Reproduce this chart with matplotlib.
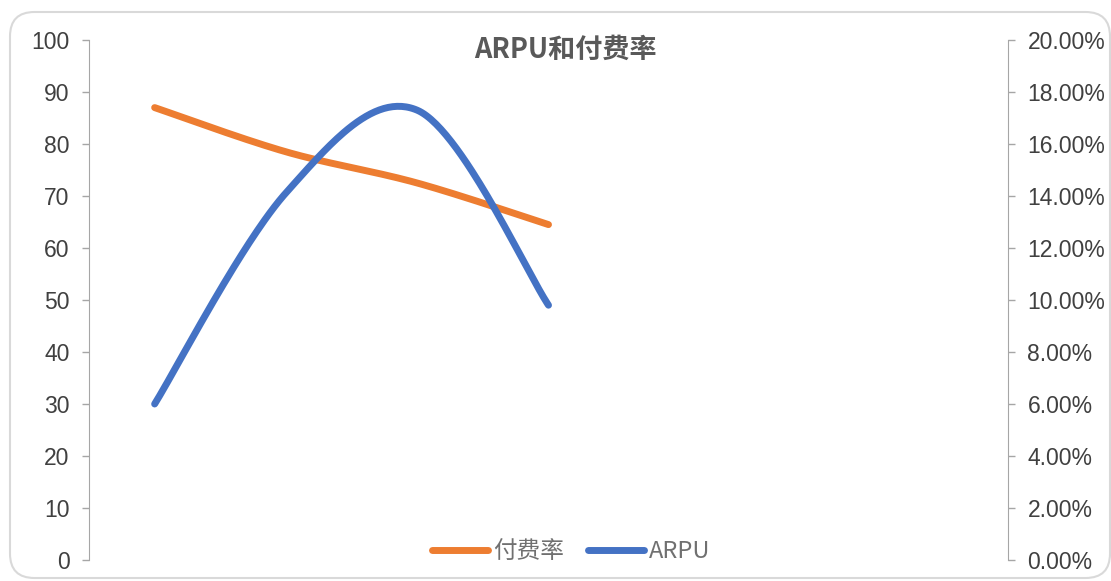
import numpy as np
import matplotlib
matplotlib.use("Agg")
import matplotlib.pyplot as plt
from matplotlib.patches import FancyBboxPatch
from matplotlib.ticker import FuncFormatter, MultipleLocator

plt.rcParams['font.family'] = ['Liberation Sans', 'Noto Sans CJK SC', 'DejaVu Sans']

# data
periods = [0, 1, 2, 3]          # 4 filled slots out of 7 category positions
n_slots = 7
arpu = [30, 70.6, 86.5, 49]
pay_rate = [0.174, 0.157, 0.145, 0.129]

ORANGE = '#ED7D31'
BLUE = '#4472C4'
TEXT = '#595959'
AXIS = '#A6A6A6'


def smooth(xs, ys, n=60):
    '''Bezier smoothing through every point, control points at 1/6 of neighbour span'''
    x = np.asarray(xs, float)
    y = np.asarray(ys, float)
    px = np.concatenate([[x[0]], x, [x[-1]]])
    py = np.concatenate([[y[0]], y, [y[-1]]])
    outx, outy = [], []
    t = np.linspace(0, 1, n)
    for i in range(1, len(x)):
        p0 = np.array([px[i], py[i]])
        p3 = np.array([px[i + 1], py[i + 1]])
        c1 = p0 + (np.array([px[i + 1], py[i + 1]]) - np.array([px[i - 1], py[i - 1]])) / 6
        c2 = p3 - (np.array([px[i + 2], py[i + 2]]) - np.array([px[i], py[i]])) / 6
        b = ((1 - t) ** 3)[:, None] * p0 + (3 * (1 - t) ** 2 * t)[:, None] * c1 \
            + (3 * (1 - t) * t ** 2)[:, None] * c2 + (t ** 3)[:, None] * p3
        outx.extend(b[:, 0])
        outy.extend(b[:, 1])
    return outx, outy


fig = plt.figure(figsize=(11.11, 5.81), dpi=100)

# chart area frame
frame = FancyBboxPatch((10 / 1111, 3 / 581), 1100 / 1111, 566 / 581,
                       boxstyle="round,pad=0,rounding_size=0.022",
                       transform=fig.transFigure, facecolor='white',
                       edgecolor='#D9D9D9', linewidth=1.5, zorder=-1,
                       mutation_aspect=1111 / 581)
fig.patches.append(frame)

ax = fig.add_axes([89 / 1111, 21 / 581, 919 / 1111, 520 / 581])
ax2 = ax.twinx()
ax.patch.set_alpha(0)

xs, ys = smooth(periods, arpu)
ax.plot(xs, ys, color=BLUE, lw=5, solid_capstyle='round', zorder=3)
xs2, ys2 = smooth(periods, pay_rate)
ax2.plot(xs2, ys2, color=ORANGE, lw=5, solid_capstyle='round', zorder=2)
ax.set_zorder(ax2.get_zorder() + 1)

ax.set_xlim(-0.5, n_slots - 0.5)
ax.set_ylim(0, 100)
ax2.set_ylim(0, 0.20)
ax.yaxis.set_major_locator(MultipleLocator(10))
ax2.yaxis.set_major_locator(MultipleLocator(0.02))
ax2.yaxis.set_major_formatter(FuncFormatter(lambda v, p: f'{v * 100:.2f}%'))

for a in (ax, ax2):
    for s in ('top', 'bottom'):
        a.spines[s].set_visible(False)
    a.set_xticks([])
    a.tick_params(axis='y', length=5, width=1, color=AXIS, labelsize=16.5,
                  labelcolor='#404040', pad=9)
ax.spines['right'].set_visible(False)
ax2.spines['left'].set_visible(False)
ax.spines['left'].set_color(AXIS)
ax2.spines['right'].set_color(AXIS)

fig.text(565 / 1111, 1 - 50 / 581, 'ARPU和付费率', ha='center', va='center',
         fontsize=19.5, fontweight='bold', color=TEXT,
         family=['Noto Sans CJK SC', 'DejaVu Sans'])

# legend
h1, = ax.plot([], [], color=ORANGE, lw=5, solid_capstyle='round')
h2, = ax.plot([], [], color=BLUE, lw=5, solid_capstyle='round')
leg = fig.legend([h1, h2], ['付费率', 'ARPU'], loc='center',
                 bbox_to_anchor=(571 / 1111, 1 - 552 / 581), ncol=2, frameon=False,
                 handlelength=2.4, handletextpad=0.2, columnspacing=1.0,
                 prop={'family': ['Noto Sans CJK SC', 'DejaVu Sans'], 'size': 17})
for t in leg.get_texts():
    t.set_color('#707070')

fig.savefig('out.png', dpi=100)
